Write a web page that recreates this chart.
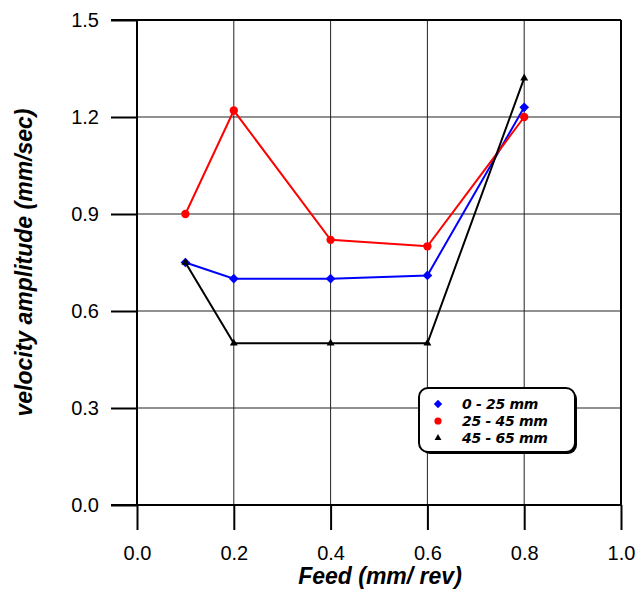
<!DOCTYPE html>
<html>
<head>
<meta charset="utf-8">
<script src="https://cdn.jsdelivr.net/npm/d3@7"></script>
<style>
  body { margin: 0; background: #fff; }
  svg { display: block; font-family: "Liberation Sans", Arial, sans-serif; }
</style>
</head>
<body>
<div id="chart"></div>
<script>
"use strict";

/********/
/* data */
/********/

const feeds = [0.1, 0.2, 0.4, 0.6, 0.8];
const depth0to25 = [0.75, 0.7, 0.7, 0.71, 1.23];
const depth25to45 = [0.9, 1.22, 0.82, 0.8, 1.2];
const depth45to65 = [0.75, 0.5, 0.5, 0.5, 1.32];
const seriesNames = ["0 - 25 mm", "25 - 45 mm", "45 - 65 mm"];
const xTicks = [0, 0.2, 0.4, 0.6, 0.8, 1.0];
const yTicks = [0, 0.3, 0.6, 0.9, 1.2, 1.5];

const series = [
  { name: seriesNames[0], values: depth0to25, colour: "#0000ff", symbol: d3.symbolDiamond2, size: 60 },
  { name: seriesNames[1], values: depth25to45, colour: "#ff0000", symbol: d3.symbolCircle, size: 55 },
  { name: seriesNames[2], values: depth45to65, colour: "#000000", symbol: d3.symbolTriangle2, size: 45 },
];

/********/
/* view */
/********/

const width = 639;
const height = 599;
const margin = { top: 20, right: 18, bottom: 94, left: 137 };

const svg = d3
  .select("#chart")
  .append("svg")
  .attr("width", width)
  .attr("height", height);

const x = d3
  .scaleLinear()
  .domain([0, 1])
  .range([margin.left, width - margin.right]);

const y = d3
  .scaleLinear()
  .domain([0, 1.5])
  .range([height - margin.bottom, margin.top]);

// grid
const grid = svg.append("g").attr("stroke", "#222").attr("stroke-width", 1);
xTicks.slice(1, -1).forEach(t => {
  grid
    .append("line")
    .attr("x1", x(t))
    .attr("x2", x(t))
    .attr("y1", y(0))
    .attr("y2", y(1.5));
});
yTicks.slice(1, -1).forEach(t => {
  grid
    .append("line")
    .attr("x1", x(0))
    .attr("x2", x(1))
    .attr("y1", y(t))
    .attr("y2", y(t));
});

// axes
const xAxis = d3
  .axisBottom(x)
  .tickValues(xTicks)
  .tickFormat(d3.format(".1f"))
  .tickSize(25)
  .tickPadding(16);

const yAxis = d3
  .axisLeft(y)
  .tickValues(yTicks)
  .tickFormat(d3.format(".1f"))
  .tickSize(26)
  .tickPadding(12);

svg
  .append("g")
  .attr("transform", `translate(0,${y(0)})`)
  .call(xAxis)
  .call(g => g.select(".domain").remove())
  .call(g => g.selectAll(".tick line").attr("stroke", "#000").attr("stroke-width", 2))
  .call(g => g.selectAll(".tick text").attr("font-size", 20).attr("fill", "#000"));

svg
  .append("g")
  .attr("transform", `translate(${x(0)},0)`)
  .call(yAxis)
  .call(g => g.select(".domain").remove())
  .call(g => g.selectAll(".tick line").attr("stroke", "#000").attr("stroke-width", 2))
  .call(g => g.selectAll(".tick text").attr("font-size", 20).attr("fill", "#000"));

// frame
const frame = svg.append("g").attr("stroke", "#000").attr("stroke-width", 2);
frame.append("line").attr("x1", x(0)).attr("x2", x(0)).attr("y1", y(0)).attr("y2", y(1.5));
frame.append("line").attr("x1", x(1)).attr("x2", x(1)).attr("y1", y(0)).attr("y2", y(1.5));
frame.append("line").attr("x1", x(0) - 26).attr("x2", x(1)).attr("y1", y(0)).attr("y2", y(0));
frame.append("line").attr("x1", x(0) - 26).attr("x2", x(1)).attr("y1", y(1.5)).attr("y2", y(1.5));

// axis titles
svg
  .append("text")
  .attr("x", 380)
  .attr("y", 584)
  .attr("text-anchor", "middle")
  .attr("font-size", 23)
  .attr("font-weight", "bold")
  .attr("font-style", "italic")
  .text("Feed (mm/ rev)");

svg
  .append("text")
  .attr("transform", `translate(32,${(y(0) + y(1.5)) / 2}) rotate(-90)`)
  .attr("text-anchor", "middle")
  .attr("font-size", 23)
  .attr("font-weight", "bold")
  .attr("font-style", "italic")
  .text("velocity amplitude (mm/sec)");

// series
const line = d3
  .line()
  .x(d => x(d[0]))
  .y(d => y(d[1]));

series.forEach(s => {
  const pts = feeds.map((f, i) => [f, s.values[i]]);
  svg
    .append("path")
    .attr("d", line(pts))
    .attr("fill", "none")
    .attr("stroke", s.colour)
    .attr("stroke-width", 2);
  svg
    .append("g")
    .selectAll("path")
    .data(pts)
    .join("path")
    .attr("transform", d => `translate(${x(d[0])},${y(d[1])})`)
    .attr("d", d3.symbol(s.symbol, s.size))
    .attr("fill", s.colour);
});

// legend
const legend = svg.append("g").attr("transform", "translate(419,388)");
legend
  .append("rect")
  .attr("x", 2)
  .attr("y", 2)
  .attr("width", 156)
  .attr("height", 64)
  .attr("rx", 9)
  .attr("ry", 9)
  .attr("fill", "#000");
legend
  .append("rect")
  .attr("width", 156)
  .attr("height", 64)
  .attr("rx", 9)
  .attr("ry", 9)
  .attr("fill", "#fff")
  .attr("stroke", "#000")
  .attr("stroke-width", 2);

series.forEach((s, i) => {
  const row = legend.append("g").attr("transform", `translate(19,${16 + i * 17})`);
  row
    .append("path")
    .attr("d", d3.symbol(s.symbol, s.size * 0.75))
    .attr("fill", s.colour);
  row
    .append("text")
    .attr("x", 24)
    .attr("y", 5)
    .attr("font-family", "'DejaVu Sans', sans-serif")
    .attr("font-size", 14)
    .attr("font-weight", "bold")
    .attr("font-style", "italic")
    .attr("letter-spacing", -0.3)
    .text(s.name);
});
</script>
</body>
</html>
